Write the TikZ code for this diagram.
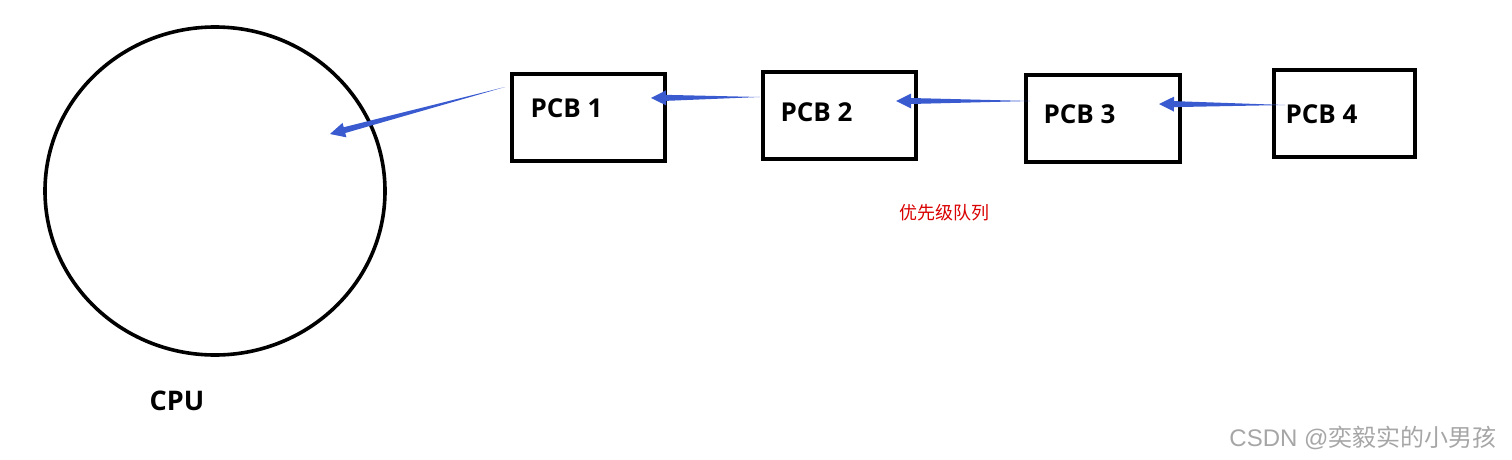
\documentclass[tikz,border=0pt]{standalone}
\usepackage{fontspec}
\setmainfont{Open Sans}[BoldFont={* Bold}]
\newfontfamily\cjk{Noto Sans CJK SC}
\newfontfamily\wmf{Liberation Sans}
\usetikzlibrary{calc}
\definecolor{arr}{HTML}{3A5BD0}
\tikzset{
  pcb/.style={draw,line width=3.6pt,inner sep=0pt},
  lbl/.style={font=\bfseries\fontsize{26}{28}\selectfont,anchor=west},
}
\newcommand{\taper}[2]{%
  \coordinate (hb) at ($(#2)!15pt!(#1)$);
  \fill[arr] (#1) -- ($(hb)!3pt!90:(#1)$) -- ($(hb)!7.5pt!90:(#1)$) -- (#2)
    -- ($(hb)!7.5pt!-90:(#1)$) -- ($(hb)!3pt!-90:(#1)$) -- cycle;}
\begin{document}
\begin{tikzpicture}[x=1pt,y=-1pt]
\useasboundingbox (0,0) rectangle (1512,460);
\draw[line width=3.6pt] (215,191) ellipse [x radius=170, y radius=164];
\node[font=\bfseries\fontsize{27}{29}\selectfont] (cpu) at (177,401) {CPU};
\draw[pcb] (512,74) rectangle (665,161);
\draw[pcb] (763,72) rectangle (916,159);
\draw[pcb] (1026,75) rectangle (1180,162);
\draw[pcb] (1274,70) rectangle (1415,157);
\node[lbl] (p1) at (527,108) {PCB 1};
\node[lbl] (p2) at (777,112) {PCB 2};
\node[lbl] (p3) at (1040,114) {PCB 3};
\node[lbl] (p4) at (1282,114) {PCB 4};
\coordinate (s1) at (505,87); \coordinate (e1) at (330,134);
\coordinate (s2) at (760,97); \coordinate (e2) at (651,98);
\coordinate (s3) at (1030,101); \coordinate (e3) at (896,101);
\coordinate (s4) at (1285,105); \coordinate (e4) at (1159,104);
\taper{s1}{e1}\taper{s2}{e2}\taper{s3}{e3}\taper{s4}{e4}
\node[text=red!85!black,font=\cjk\fontsize{18}{20}\selectfont] (q) at (944,213) {优先级队列};
\node[text=gray!70,font=\fontsize{24}{26}\selectfont,anchor=east] (wm) at (1500,438) {\wmf CSDN @\cjk 奕毅实的小男孩};
\end{tikzpicture}
\end{document}
